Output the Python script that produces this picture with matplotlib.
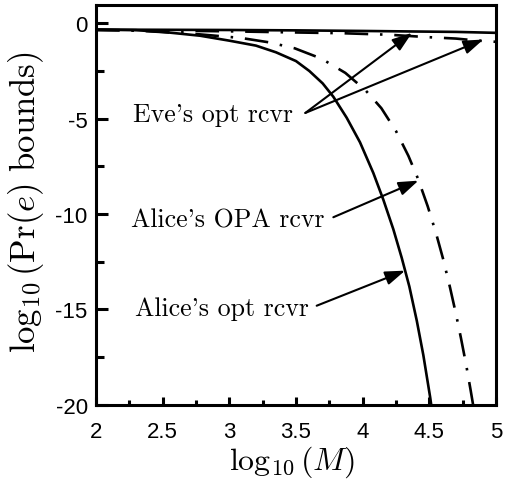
import matplotlib
matplotlib.use("Agg")
import matplotlib.pyplot as plt
from matplotlib.ticker import MultipleLocator

# ---- data ----
alice_opt_x = [2.0, 2.3, 2.5, 2.78, 3.0, 3.2, 3.35, 3.5, 3.6, 3.7, 3.78, 3.88, 3.98,
               4.08, 4.155, 4.23, 4.293, 4.35, 4.406, 4.455, 4.506, 4.52]
alice_opt_y = [-0.33, -0.36, -0.45, -0.65, -0.91, -1.17, -1.52, -1.98, -2.5, -3.15,
               -3.85, -4.95, -6.24, -7.85, -9.25, -10.8, -12.3, -13.8, -15.6, -17.4,
               -19.6, -20.3]

alice_opa_x = [2.0, 2.3, 2.6, 2.78, 3.09, 3.3, 3.49, 3.69, 3.87, 4.02, 4.14, 4.25,
               4.343, 4.415, 4.488, 4.55, 4.605, 4.655, 4.70, 4.737, 4.776, 4.81, 4.845]
alice_opa_y = [-0.35, -0.38, -0.5, -0.58, -0.77, -1.0, -1.31, -1.85, -2.6, -3.5,
               -4.45, -5.65, -6.95, -8.15, -9.6, -11.0, -12.4, -13.85, -15.25,
               -16.5, -17.9, -19.25, -20.7]

eve_opt_x = [2.0, 3.0, 3.5, 4.0, 4.4, 4.7, 5.0]
eve_opt_y = [-0.33, -0.35, -0.37, -0.40, -0.43, -0.45, -0.50]

eve_opa_x = [2.0, 2.5, 3.0, 3.5, 3.85, 4.2, 4.5, 4.7, 4.85, 5.0]
eve_opa_y = [-0.35, -0.38, -0.42, -0.48, -0.52, -0.60, -0.73, -0.80, -0.90, -0.97]

x_ticklabels = ["2", "2.5", "3", "3.5", "4", "4.5", "5"]
y_ticklabels = ["0", "-5", "-10", "-15", "-20"]

labels = ["Eve's opt rcvr", "Alice's OPA rcvr", "Alice's opt rcvr"]

# ---- style ----
plt.rcParams["mathtext.fontset"] = "cm"
plt.rcParams["lines.scale_dashes"] = False

W, H = 506, 481
fig = plt.figure(figsize=(W / 100, H / 100), dpi=100)
ax = fig.add_axes([96 / W, 1 - 405.7 / H, 400 / W, 399.5 / H])

dashdot = (0, (17, 8.5, 1.8, 8.5))
lw = 1.9
ax.plot(eve_opt_x, eve_opt_y, color="black", lw=lw, solid_capstyle="butt")
ax.plot(eve_opa_x, eve_opa_y, color="black", lw=lw, linestyle=dashdot)
ax.plot(alice_opt_x, alice_opt_y, color="black", lw=lw)
ax.plot(alice_opa_x, alice_opa_y, color="black", lw=lw, linestyle=dashdot)

ax.set_xlim(2, 5)
ax.set_ylim(-20, 0.95)

ax.set_xticks([2, 2.5, 3, 3.5, 4, 4.5, 5])
ax.set_xticklabels(x_ticklabels)
ax.xaxis.set_minor_locator(MultipleLocator(0.25))
ax.set_yticks([0, -5, -10, -15, -20])
ax.set_yticklabels(y_ticklabels)
ax.yaxis.set_minor_locator(MultipleLocator(2.5))

tickfont = "Liberation Sans"
ax.tick_params(axis="x", which="major", direction="in", length=6, width=2.2,
               pad=11.5, labelsize=16, top=False)
ax.tick_params(axis="x", which="minor", direction="in", length=3.8, width=2.2, top=False)
ax.tick_params(axis="y", which="major", direction="in", length=8.5, width=2.2,
               pad=6, labelsize=16, right=False)
ax.tick_params(axis="y", which="minor", direction="in", length=5.5, width=2.2, right=False)
for lab in ax.get_xticklabels() + ax.get_yticklabels():
    lab.set_fontfamily(tickfont)

for sp in ax.spines.values():
    sp.set_linewidth(2.2)

ax.set_xlabel(r"$\log_{10}(M)$", fontsize=23, va="baseline")
ax.xaxis.set_label_coords(0.49, -0.161)
ax.set_ylabel(r"$\log_{10}(\mathrm{Pr}(e)\ \mathrm{bounds})$", fontsize=25, va="center")
ax.yaxis.set_label_coords(-0.175, 0.51)

# ---- annotations ----
afs = 18.6
afam = ["cmr10", "DejaVu Serif"]
arrowkw = dict(arrowstyle="-|>,head_length=0.8,head_width=0.28", color="black",
               lw=1.5, mutation_scale=15, shrinkA=0, shrinkB=0)

ax.text(2.878, -5.11, labels[0], family=afam, fontsize=afs, ha="center", va="baseline")
ax.annotate("", xy=(4.37, -0.5), xytext=(3.57, -4.7), arrowprops=arrowkw)
ax.annotate("", xy=(4.905, -0.85), xytext=(3.57, -4.7), arrowprops=arrowkw)

ax.text(2.986, -10.64, labels[1], family=afam, fontsize=afs, ha="center", va="baseline")
ax.annotate("", xy=(4.418, -8.25), xytext=(3.78, -10.17), arrowprops=arrowkw)

ax.text(2.941, -15.27, labels[2], family=afam, fontsize=afs, ha="center", va="baseline")
ax.annotate("", xy=(4.318, -12.97), xytext=(3.655, -14.81), arrowprops=arrowkw)

fig.savefig("out.png", dpi=100)
